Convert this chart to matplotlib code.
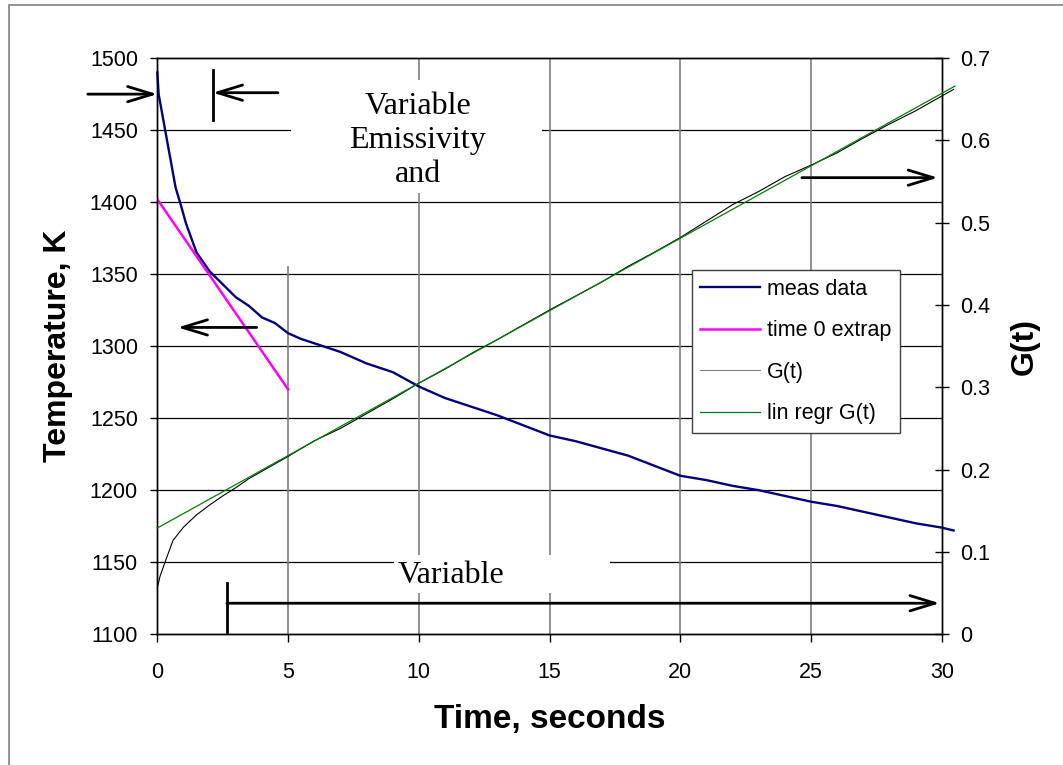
import matplotlib
matplotlib.use("Agg")
import matplotlib.pyplot as plt
from matplotlib.patches import Rectangle

# measured temperature (K) vs time (s)
meas_t = [0, 0.05, 0.2, 0.35, 0.5, 0.7, 0.9, 1.1, 1.5, 2.0, 2.5, 3.0, 3.5, 4.0,
          4.5, 5.0, 5.5, 6.0, 7.0, 8.0, 9.0, 10.0, 11.0, 12.0, 13.0, 14.0, 15.0,
          16.0, 17.0, 18.0, 19.0, 20.0, 21.0, 22.0, 23.0, 24.0, 25.0, 26.0, 27.0,
          28.0, 29.0, 30.0, 30.45]
meas_T = [1490, 1475, 1460, 1445, 1430, 1410, 1398, 1385, 1365, 1352, 1343, 1334,
          1328, 1320, 1316, 1309, 1305, 1302, 1296, 1288, 1282, 1272, 1264, 1258,
          1252, 1245, 1238, 1234, 1229, 1224, 1217, 1210, 1207, 1203, 1200, 1196,
          1192, 1189, 1185, 1181, 1177, 1174, 1172]

# time-zero extrapolation
extrap_t = [0, 5]
extrap_T = [1402, 1270]

# G(t) on the right axis
g_t = [0, 0.1, 0.3, 0.6, 1.0, 1.5, 2.0, 2.5, 3.0, 3.5, 4, 5, 6, 7, 8, 9, 10, 11,
       12, 13, 14, 15, 16, 17, 18, 19, 20, 21, 22, 23, 24, 25, 26, 27, 28, 29,
       30, 30.45]
g_val = [0.056, 0.07, 0.088, 0.114, 0.13, 0.145, 0.157, 0.168, 0.178, 0.189,
         0.198, 0.216, 0.235, 0.25, 0.268, 0.286, 0.305, 0.322, 0.341, 0.358,
         0.376, 0.394, 0.411, 0.428, 0.447, 0.464, 0.482, 0.502, 0.522, 0.538,
         0.556, 0.570, 0.585, 0.603, 0.620, 0.636, 0.654, 0.662]

# linear regression of G(t)
reg_t = [0, 30.5]
reg_val = [0.129, 0.666]

x_ticks = [0, 5, 10, 15, 20, 25, 30]
left_ticks = [1100, 1150, 1200, 1250, 1300, 1350, 1400, 1450, 1500]
right_ticks = [0, 0.1, 0.2, 0.3, 0.4, 0.5, 0.6, 0.7]

sans = "Liberation Sans"
serif = "Liberation Serif"

fig = plt.figure(figsize=(10.63, 7.65), dpi=100)
ax = fig.add_axes([0.148, 0.171, 0.738, 0.753])
ax2 = ax.twinx()

# outer frame of the chart object (left and top edges show)
fig.patches.append(Rectangle((9 / 1063, -0.1), 1.5, 0.1 + 760 / 765,
                             transform=fig.transFigure, fill=False,
                             edgecolor="#808080", lw=1.2))

ax.set_xlim(0, 30)
ax.set_ylim(1100, 1500)
ax2.set_ylim(0, 0.7)

# gridlines
for y in left_ticks[1:-1]:
    ax.axhline(y, color="black", lw=0.9, zorder=0.5)
for x in x_ticks[1:-1]:
    top = 0.637 if x == 5 else 1.0
    ax.axvline(x, ymax=top, color="#808080", lw=1.2, zorder=0.5)

# white text boxes
ax.add_patch(Rectangle((5.1, 1406.3), 9.6, 78.4, facecolor="white",
                       edgecolor="none", zorder=1))
ax.add_patch(Rectangle((9.04, 1128.5), 8.26, 26.4, facecolor="white",
                       edgecolor="none", zorder=1))
ax.text(9.95, 1443, "Variable\nEmissivity\nand", ha="center", va="center",
        fontsize=23, family=serif, linespacing=1.22, zorder=2)
ax.text(9.2, 1141, "Variable", ha="left", va="center", fontsize=23,
        family=serif, zorder=2)

l1, = ax.plot(meas_t, meas_T, color="#000080", lw=1.7, clip_on=False, zorder=3)
l2, = ax.plot(extrap_t, extrap_T, color="#ff00ff", lw=1.8, zorder=3)
l3, = ax2.plot(g_t, g_val, color="black", lw=0.8, clip_on=False, zorder=3)
l4, = ax2.plot(reg_t, reg_val, color="#008000", lw=0.9, clip_on=False, zorder=3)

# arrows
arw = dict(arrowstyle="->,head_length=1.8,head_width=0.55", lw=2, color="black",
           shrinkA=0, shrinkB=0)
ax.annotate("", xy=(0, 1475), xytext=(-2.66, 1475), arrowprops=arw,
            annotation_clip=False)
ax.annotate("", xy=(2.12, 1476), xytext=(4.61, 1476), arrowprops=arw)
ax.plot([2.12, 2.12], [1457, 1492], color="black", lw=2)
ax.annotate("", xy=(0.78, 1313), xytext=(3.8, 1313), arrowprops=arw)
ax.annotate("", xy=(29.85, 1417), xytext=(24.65, 1417), arrowprops=arw)
ax.annotate("", xy=(29.92, 1121.5), xytext=(2.66, 1121.5), arrowprops=arw)
ax.plot([2.66, 2.66], [1101.4, 1135.4], color="black", lw=2)

# ticks
ax.set_xticks(x_ticks)
ax.set_yticks(left_ticks)
ax2.set_yticks(right_ticks)
ax2.set_yticklabels(["0", "0.1", "0.2", "0.3", "0.4", "0.5", "0.6", "0.7"])
ax.tick_params(axis="x", direction="out", length=6, width=1, pad=14,
               labelsize=15.5)
ax.tick_params(axis="y", direction="out", length=5, width=1, pad=9,
               labelsize=15.5)
ax2.tick_params(axis="y", direction="inout", length=10, width=1, pad=8,
                labelsize=15.5)
for a in (ax, ax2):
    for lab in a.get_xticklabels() + a.get_yticklabels():
        lab.set_family(sans)
    for sp in a.spines.values():
        sp.set_color("black")
        sp.set_linewidth(1)

ax.set_xlabel("Time, seconds", fontsize=24, fontweight="bold", family=sans,
              labelpad=15)
ax.set_ylabel("Temperature, K", fontsize=23, fontweight="bold", family=sans,
              labelpad=12)
ax2.set_ylabel("G(t)", fontsize=23, fontweight="bold", family=sans, labelpad=14)

leg = ax2.legend([l1, l2, l3, l4],
                 ["meas data", "time 0 extrap", "G(t)", "lin regr G(t)"],
                 loc="upper left", bbox_to_anchor=(0.681, 0.632),
                 prop={"family": sans, "size": 15.5}, fancybox=False,
                 framealpha=1, edgecolor="#404040", labelspacing=0.95,
                 handlelength=2.8, handletextpad=0.3, borderaxespad=0,
                 borderpad=0.4)
leg.get_frame().set_linewidth(1)
leg.legend_handles[2].set_color("#808080")

fig.savefig("out.png", dpi=100)
